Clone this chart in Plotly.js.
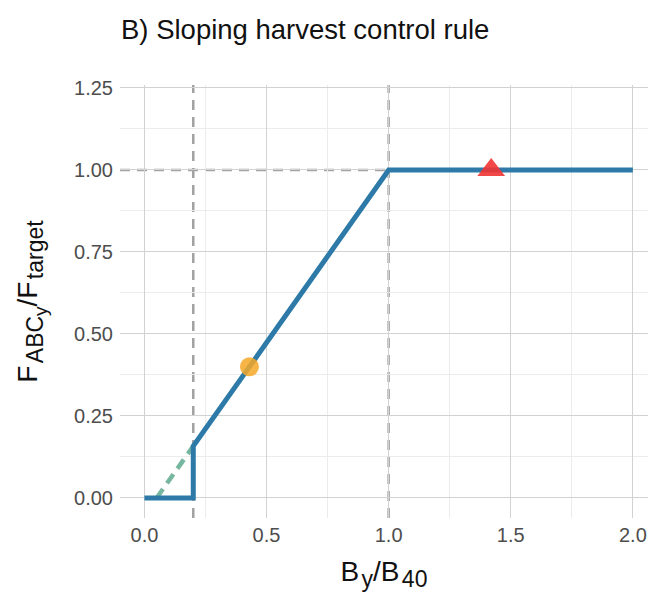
<!DOCTYPE html>
<html>
<head>
<meta charset="utf-8">
<script src="https://cdn.plot.ly/plotly-3.0.1.min.js"></script>
<style>
  html, body { margin: 0; padding: 0; background: #fff; overflow: hidden; }
  #chart { width: 648px; height: 597px; }
</style>
</head>
<body>
<div id="chart"></div>
<script>
// Harvest control rule: F_ABC / F_target as a function of B / B40
const alpha = 0.05;              // lower limit of the sloping segment
const bLimit = 0.2;              // fishing stops below this biomass ratio
const ruleX = [0, 0.2, 0.2, 1.0, 2.0];
const ruleY = [0, 0, 0.158, 1.0, 1.0];

// continuation of the slope below the cut-off
const slopeX = [0.05, 0.2];
const slopeY = [0, 0.158];

// current stock status (circle) and projected status (triangle)
const currentX = [0.43];
const currentY = [0.40];
const projectedX = [1.42];
const projectedY = [1.0];

// reference lines
const refVertical = [bLimit, 1.0];
const refHorizontal = 1.0;

const xTicks = [0, 0.5, 1.0, 1.5, 2.0];
const xTickText = ['0.0', '0.5', '1.0', '1.5', '2.0'];
const yTicks = [0, 0.25, 0.5, 0.75, 1.0, 1.25];
const yTickText = ['0.00', '0.25', '0.50', '0.75', '1.00', '1.25'];

const FONT = 'Liberation Sans, Arial, Helvetica, sans-serif';
const dashGrey = '#a2a2a2';
const refDash = { color: dashGrey, width: 2.5, dash: '10px,7px' };

const HAIR = '\u200a';
const sub = (s, px) => '<sub><span style="font-size:' + px + 'px">' + s + '</span></sub>';

const traces = [
  {
    x: slopeX, y: slopeY, mode: 'lines', hoverinfo: 'skip',
    line: { color: 'rgba(96,170,142,0.85)', width: 4.5, dash: '11px,7px' }
  },
  {
    x: ruleX, y: ruleY, mode: 'lines', hoverinfo: 'skip',
    line: { color: '#2d7aa8', width: 5 }
  },
  {
    x: currentX, y: currentY, mode: 'markers', hoverinfo: 'skip',
    marker: { symbol: 'circle', size: 19, color: 'rgba(246,168,40,0.85)', line: { width: 0 } }
  },
  {
    x: projectedX, y: projectedY, mode: 'markers', hoverinfo: 'skip',
    marker: { symbol: 'triangle-up', size: 24, color: 'rgba(242,52,52,0.9)', line: { width: 0 } }
  }
];

const shapes = refVertical.map(v => ({
  type: 'line', layer: 'below', xref: 'x', yref: 'paper',
  x0: v, x1: v, y0: 0, y1: 1, line: refDash
}));
// horizontal reference runs from the panel edge to B/B40 = 1
shapes.push({
  type: 'line', layer: 'below', xref: 'x', yref: 'y',
  x0: -0.1, x1: 1.0, y0: refHorizontal, y1: refHorizontal, line: refDash
});

const layout = {
  width: 648, height: 597,
  margin: { l: 120, r: 0, t: 85, b: 79 },
  paper_bgcolor: '#ffffff', plot_bgcolor: '#ffffff',
  showlegend: false,
  font: { family: FONT, color: '#000' },
  title: {
    text: 'B) Sloping harvest control rule',
    font: { family: FONT, size: 27.5, color: '#111' },
    xref: 'container', yref: 'container',
    x: 121 / 648, xanchor: 'left',
    y: 1 - 29 / 597, yanchor: 'middle'
  },
  xaxis: {
    range: [-0.1, 2.062],
    tickvals: xTicks, ticktext: xTickText,
    tickfont: { family: FONT, size: 20, color: '#4d4d4d' },
    ticks: '', ticklabelstandoff: 3,
    showgrid: true, gridcolor: '#d2d2d2', gridwidth: 1,
    minor: { dtick: 0.25, tick0: 0, showgrid: true, gridcolor: '#ececec', gridwidth: 1 },
    zeroline: false, showline: false,
    title: {
      text: 'B' + HAIR + sub('y', 23) + '/B' + HAIR + sub('40', 23),
      font: { family: FONT, size: 28, color: '#111' },
      standoff: 16
    }
  },
  yaxis: {
    range: [-0.061, 1.259],
    tickvals: yTicks, ticktext: yTickText,
    tickfont: { family: FONT, size: 20, color: '#4d4d4d' },
    ticks: '', ticklabelstandoff: 6,
    showgrid: true, gridcolor: '#d2d2d2', gridwidth: 1,
    minor: { dtick: 0.125, tick0: 0, showgrid: true, gridcolor: '#ececec', gridwidth: 1 },
    zeroline: false, showline: false,
    title: {
      text: 'F' + HAIR + '<sub><span style="font-size:23px">ABC' + sub('y', 19) + '</span></sub>' +
            '/F' + HAIR + sub('target', 23),
      font: { family: FONT, size: 28, color: '#111' },
      standoff: 28
    }
  },
  shapes: shapes
};

Plotly.newPlot('chart', traces, layout, { staticPlot: true, displayModeBar: false });
</script>
</body>
</html>
